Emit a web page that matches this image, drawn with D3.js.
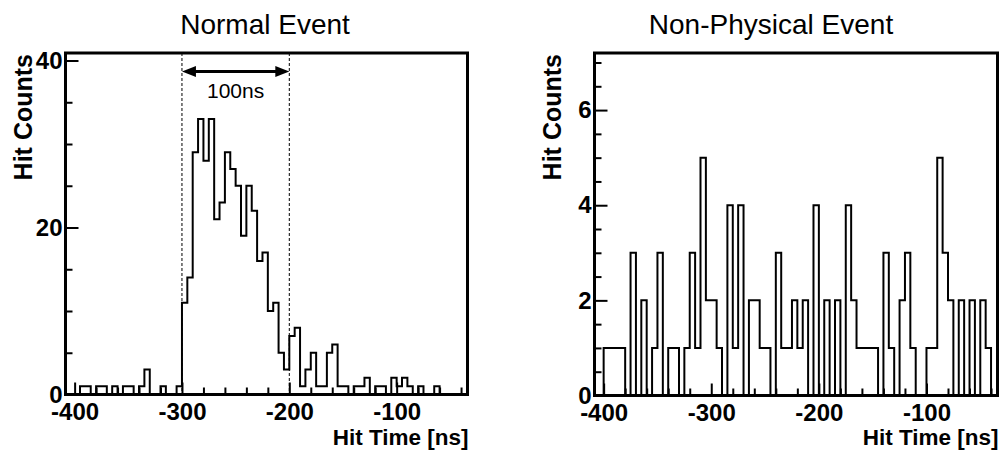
<!DOCTYPE html>
<html><head><meta charset="utf-8">
<script src="https://cdn.jsdelivr.net/npm/d3@7"></script>
<style>
html,body{margin:0;padding:0;background:#fff;}
svg{display:block;font-family:"Liberation Sans",Arial,Helvetica,sans-serif;}
</style></head>
<body>
<script>
// ---- data ----
const binStart = -400;   // lower edge of first bin [ns]
const binWidth = 5;      // bin width [ns]
const normalCounts = [
  0,1,1,0,1,1,0,1,0,1, 1,0,1,3,0,0,1,0,0,1,
  11,14,29,33,28,33,21,23,29,27, 25,19,25,22,16,17,10,11,5,3,
  7,8,1,3,5,1,1,5,6,1, 1,0,1,1,2,0,1,1,0,2,
  1,2,1,0,1,0,0,1,0,0, 0,0,0
];
const nonPhysCounts = [
  1,1,1,1,0,3,0,2,0,1, 3,0,1,1,0,1,3,1,5,2,
  2,1,0,4,1,4,0,2,2,1, 1,0,3,1,1,2,1,2,0,4,
  0,2,0,2,0,4,2,1,1,1, 1,0,3,1,0,2,3,1,0,0,
  1,1,5,3,2,0,2,0,2,0, 2,1,0
];
const xDomain = [-408.5, -34];
const xMajorTicks = [-400, -300, -200, -100];
const leftYMax = 40.9, rightYMax = 7.2;
const leftYMajor = [0, 20, 40];
const rightYMajor = [0, 2, 4, 6];
const titles = ["Normal Event", "Non-Physical Event"];
const yTitle = "Hit Counts", xTitle = "Hit Time [ns]";
const windowEdges = [-300, -200];
const windowLabel = "100ns";

const W = 999, H = 453;
const FONT = "'Liberation Sans',Arial,Helvetica,sans-serif";
const svg = d3.select("body").append("svg").attr("width", W).attr("height", H);

function panel(opts) {
  const {x0, x1, y0, y1, counts, yMax, yMajor, yMinorStep, title, titleX} = opts;
  const x = d3.scaleLinear().domain(xDomain).range([x0, x1]);
  const y = d3.scaleLinear().domain([0, yMax]).range([y1, y0]);
  const g = svg.append("g");
  const clipId = "clip" + Math.round(x0);
  svg.append("clipPath").attr("id", clipId).append("rect")
    .attr("x", x0).attr("y", y0).attr("width", x1 - x0).attr("height", y1 - y0);

  // histogram step outline
  const pts = [[binStart, 0]];
  counts.forEach((c, i) => {
    const e0 = binStart + i * binWidth, e1 = e0 + binWidth;
    pts.push([e0, c]); pts.push([e1, c]);
  });
  pts.push([binStart + counts.length * binWidth, 0]);
  g.append("path").attr("clip-path", `url(#${clipId})`)
    .attr("d", d3.line().x(d => x(d[0])).y(d => y(d[1]))(pts))
    .attr("fill", "none").attr("stroke", "#000").attr("stroke-width", 2)
    .attr("stroke-linejoin", "miter");

  // x axis (ticks inside)
  const xMinor = d3.range(-400, xDomain[1], 20).filter(v => !xMajorTicks.includes(v));
  const gx = g.append("g").attr("transform", `translate(0,${y1})`);
  gx.call(d3.axisBottom(x).tickValues(xMinor).tickSize(-7).tickFormat(""));
  const gx2 = g.append("g").attr("transform", `translate(0,${y1})`);
  gx2.call(d3.axisBottom(x).tickValues(xMajorTicks).tickSize(-12).tickPadding(8).tickFormat(d => String(d)));
  [gx, gx2].forEach(a => { a.select(".domain").remove(); a.selectAll("line").attr("stroke-width", 2); });
  gx2.selectAll("text").attr("font-size", 24).attr("font-weight", "bold").attr("fill", "#000")
    .attr("font-family", FONT);

  // y axis
  const yMinor = d3.range(0, yMax, yMinorStep).filter(v => !yMajor.some(m => Math.abs(m - v) < 1e-9));
  const gy = g.append("g").attr("transform", `translate(${x0},0)`);
  gy.call(d3.axisLeft(y).tickValues(yMinor).tickSize(-7).tickFormat(""));
  const gy2 = g.append("g").attr("transform", `translate(${x0},0)`);
  gy2.call(d3.axisLeft(y).tickValues(yMajor).tickSize(-13).tickPadding(3).tickFormat(d => String(d)));
  [gy, gy2].forEach(a => { a.select(".domain").remove(); a.selectAll("line").attr("stroke-width", 2); });
  gy2.selectAll("text").attr("font-size", 24).attr("font-weight", "bold").attr("fill", "#000")
    .attr("font-family", FONT);

  // frame
  g.append("rect").attr("x", x0).attr("y", y0).attr("width", x1 - x0).attr("height", y1 - y0)
    .attr("fill", "none").attr("stroke", "#000").attr("stroke-width", 3);

  // titles
  svg.append("text").attr("x", titleX).attr("y", 34).attr("text-anchor", "middle")
    .attr("font-size", 28).text(title);
  svg.append("text").attr("transform", `translate(${x0 - 34},${y0 + 1}) rotate(-90)`)
    .attr("text-anchor", "end").attr("font-size", 25).attr("font-weight", "bold").text(yTitle);
  svg.append("text").attr("x", x1 + 1).attr("y", 445).attr("text-anchor", "end")
    .attr("font-size", 22.5).attr("font-weight", "bold").text(xTitle);
  return {x, y, g};
}

const L = panel({x0: 65.5, x1: 467.5, y0: 53, y1: 394.5, counts: normalCounts,
  yMax: leftYMax, yMajor: leftYMajor, yMinorStep: 5, title: titles[0], titleX: 265});
const R = panel({x0: 594.5, x1: 997.5, y0: 53, y1: 395.5, counts: nonPhysCounts,
  yMax: rightYMax, yMajor: rightYMajor, yMinorStep: 0.5, title: titles[1], titleX: 771});

// 100 ns window annotation
windowEdges.forEach(v => {
  L.g.append("line").attr("x1", L.x(v)).attr("x2", L.x(v)).attr("y1", 53).attr("y2", 394.5)
    .attr("stroke", "#000").attr("stroke-width", 1).attr("stroke-dasharray", "3,2");
});
const ay = 71.5, xa = L.x(windowEdges[0]), xb = L.x(windowEdges[1]);
L.g.append("line").attr("x1", xa + 10).attr("x2", xb - 10).attr("y1", ay).attr("y2", ay)
  .attr("stroke", "#000").attr("stroke-width", 3);
L.g.append("path").attr("d", `M${xa},${ay} L${xa + 14},${ay - 5.5} L${xa + 14},${ay + 5.5} Z`).attr("fill", "#000");
L.g.append("path").attr("d", `M${xb},${ay} L${xb - 14},${ay - 5.5} L${xb - 14},${ay + 5.5} Z`).attr("fill", "#000");
L.g.append("text").attr("x", (xa + xb) / 2).attr("y", 98).attr("text-anchor", "middle")
  .attr("font-size", 21).text(windowLabel);
</script>
</body></html>
